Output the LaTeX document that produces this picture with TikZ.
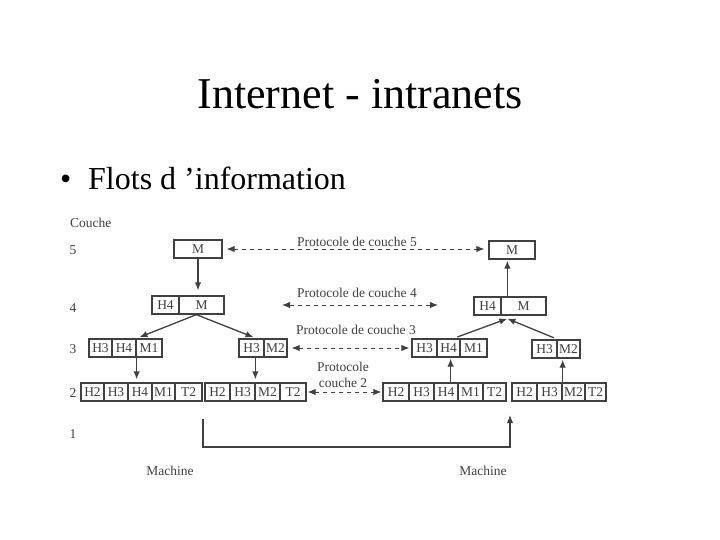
\documentclass[tikz,border=0pt]{standalone}
\usepackage{fontspec}
\setmainfont{Liberation Serif}
\usetikzlibrary{positioning, arrows.meta}
\definecolor{ink}{gray}{0.25}
\tikzstyle{cell} = [draw=ink, line width=1.3pt, minimum height=18pt, inner sep=0pt, text=ink, font=\fontsize{13.5}{15}\selectfont]
\tikzstyle{lbl} = [text=ink, font=\fontsize{13.5}{16}\selectfont, inner sep=0pt]
\tikzstyle{arrow} = [ink, line width=1.3pt, -{Latex[length=8pt,width=6.5pt]}]
\tikzstyle{proto} = [ink, line width=1pt, dash pattern=on 4pt off 4pt, {Latex[length=8pt,width=6.5pt]}-{Latex[length=8pt,width=6.5pt]}]
\newcommand\Packet[3]{%
    \foreach \cname/\xa/\xb [count=\i] in {#3}
        \node[cell, minimum width={(\xb-\xa)*1pt}] (#1\i) at ({(\xa+\xb)/2},#2) {\cname};
}

\begin{document}
\begin{tikzpicture}[x=1pt, y=-1pt]
\fill[white] (0,0) rectangle (720,540);
\useasboundingbox (0,0) rectangle (720,540);

\node[anchor=base, font=\fontsize{44}{50}\selectfont] (title) at (360,109) {Internet - intranets};
\node[anchor=base west, font=\fontsize{32}{38}\selectfont, inner sep=0pt] (bullet) at (60,190) {•};
\node[anchor=base west, font=\fontsize{32}{38}\selectfont, inner sep=0pt] (topic) at (88,190) {Flots d ’information};

% Left machine
\Packet{L5}{249}{M/174/222}
\Packet{L4}{305}{H4/152/179, M/179/224}
\Packet{L3a}{348}{H3/89/112, H4/112/136, M1/136/162}
\Packet{L3b}{348}{H3/239/264, M2/264/287}
\Packet{L2a}{392}{H2/81/104, H3/104/128, H4/128/152, M1/152/175, T2/175/202}
\Packet{L2b}{392}{H2/205/230, H3/230/255, M2/255/280, T2/280/306}

% Right machine
\Packet{R5}{250}{M/489/535}
\Packet{R4}{306}{H4/474/501, M/501/546}
\Packet{R3a}{348}{H3/412/437, H4/437/460, M1/460/487}
\Packet{R3b}{349}{H3/532/557, M2/557/580}
\Packet{R2a}{392}{H2/383/409, H3/409/434, H4/434/458, M1/458/483, T2/483/506}
\Packet{R2b}{392}{H2/512/537, H3/537/562, M2/562/585, T2/585/606}

% Labels
\node[lbl, anchor=west] (couche) at (70,223) {Couche};
\foreach \n/\y in {5/250, 4/308, 3/349, 2/393, 1/434}
    \node[lbl] (num\n) at (73,\y) {\n};
\node[lbl] (proto5) at (357,242) {Protocole de couche 5};
\node[lbl] (proto4) at (357,293) {Protocole de couche 4};
\node[lbl] (proto3) at (356,330) {Protocole de couche 3};
\node[lbl, align=center] (proto2) at (343,375) {Protocole\\couche 2};
\node[lbl] (machA) at (170,471) {Machine};
\node[lbl] (machB) at (483,471) {Machine};

% Arrows down (left)
\draw[arrow, shorten >=5pt] (L51.south) -- (L51.south |- L42.north);
\coordinate (L4out) at ([xshift=18pt]L42.south west);
\draw[arrow, shorten >=3pt] (L4out) -- (L3a2.north east);
\draw[arrow, shorten >=3pt] (L4out) -- ([xshift=-7pt]L3b2.north west);
\draw[arrow, shorten >=3pt] (L3a2.south east) -- (L3a2.south east |- L2a3.north);
\coordinate (L3bdn) at ([xshift=-8pt]L3b2.south west);
\draw[arrow, shorten >=3pt] (L3bdn) -- (L3bdn |- L2b3.north);

% Arrows up (right)
\coordinate (R4up) at ([xshift=7pt]R42.north west);
\draw[arrow, shorten >=1pt] (R4up) -- (R4up |- R51.south);
\coordinate (R4in) at ([xshift=7pt, yshift=-3pt]R42.south west);
\draw[arrow, shorten <=4pt] ([xshift=-7pt]R3a2.north east) -- (R4in);
\draw[arrow, shorten <=4pt] (R3b1.north east) -- (R4in);
\coordinate (R2aup) at ([xshift=-8pt]R2a3.north east);
\draw[arrow, shorten >=1pt] (R2aup) -- (R2aup |- R3a2.south);
\draw[arrow, shorten >=1pt] (R2b2.north east) -- (R2b2.north east |- R3b2.south);

% Protocols
\draw[proto, shorten <=4pt, shorten >=4pt] (L51.east) -- (L51.east -| R51.west);
\coordinate (p4a) at (282,305);
\coordinate (p4b) at (438,305);
\draw[proto] (p4a) -- (p4b);
\draw[proto, shorten <=4pt, shorten >=2pt] (L3b2.east) -- (L3b2.east -| R3a1.west);
\draw[proto, shorten <=1pt, shorten >=1pt] (L2b4.east) -- (R2a1.west);

% Physical link
\coordinate (linkA) at (203,419);
\coordinate (linkB) at (510,415);
\draw[arrow] (linkA) -- ++(0,28) -| (linkB);

\end{tikzpicture}
\end{document}
